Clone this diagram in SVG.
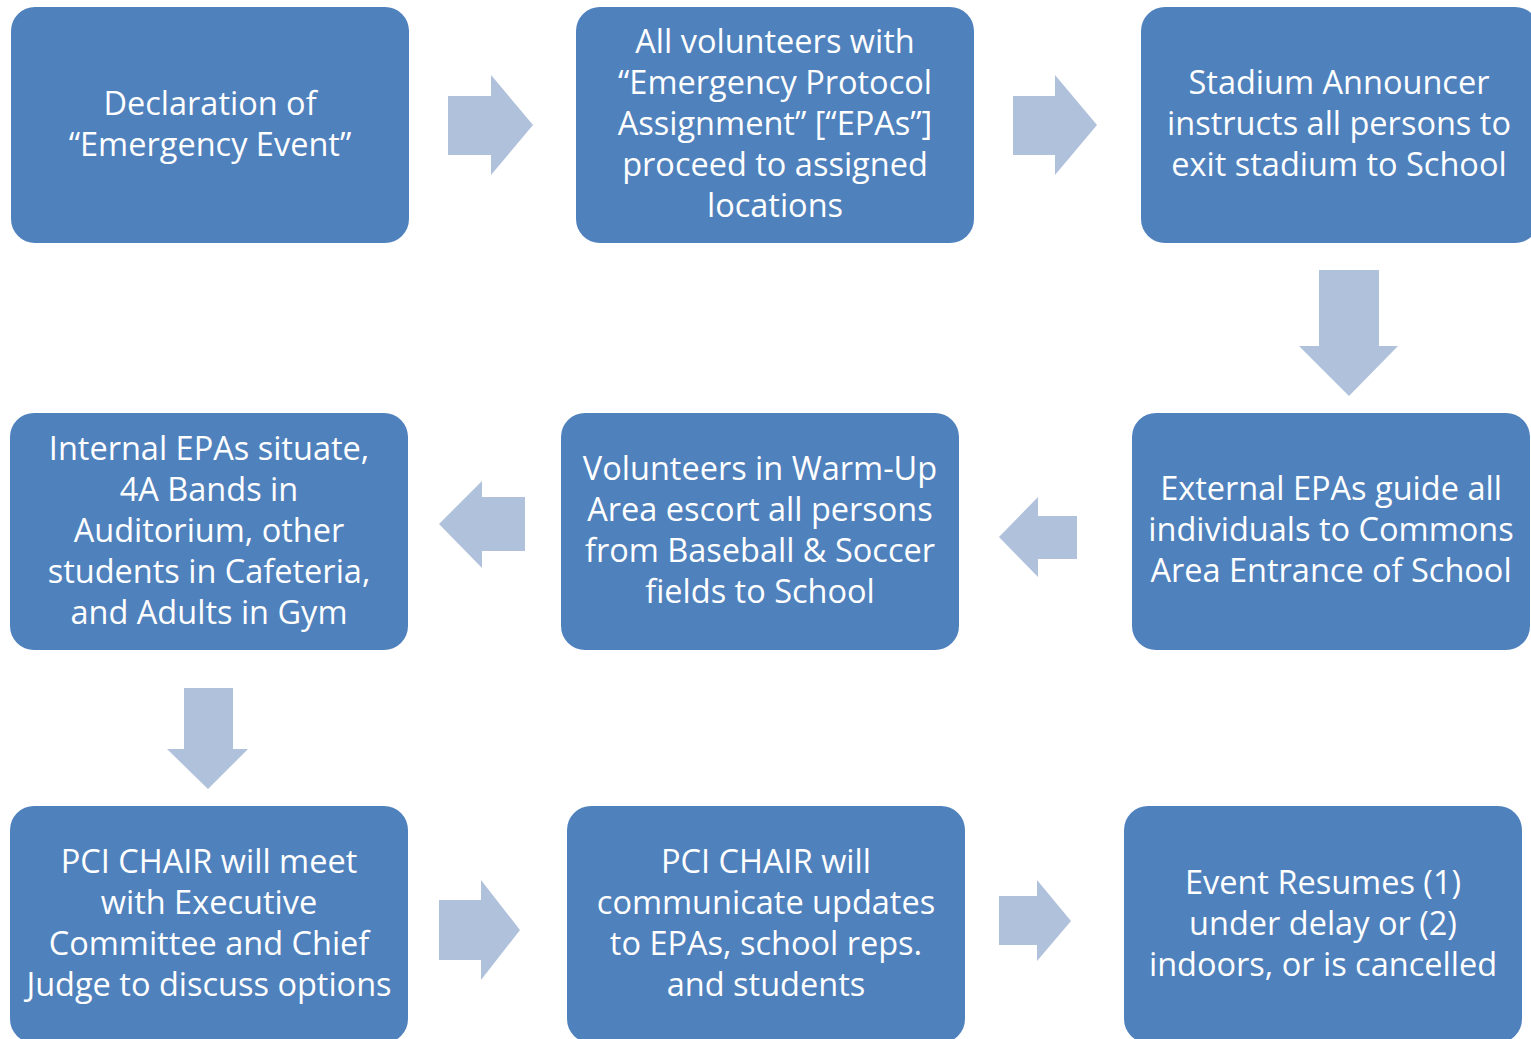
<svg xmlns="http://www.w3.org/2000/svg" width="1531" height="1039" viewBox="0 0 1531 1039">
<style>
.box{fill:#4F81BD;}
.arr{fill:#B0C1DC;}
.t{font-family:"Open Sans","Liberation Sans",sans-serif;font-size:32.5px;fill:#FFFFFF;text-anchor:middle;}
</style>
<rect width="1531" height="1039" fill="#FFFFFF"/>
<g id="connectors">
<polygon class="arr" points="448,96 491,96 491,75 533,125 491,175 491,155 448,155"/>
<polygon class="arr" points="1013,96 1055,96 1055,75 1097,125 1055,175 1055,155 1013,155"/>
<polygon class="arr" points="1319,270 1379,270 1379,346 1398,346 1349,396 1299,346 1319,346"/>
<polygon class="arr" points="1077,516 1038,516 1038,497 999,537 1038,577 1038,559 1077,559"/>
<polygon class="arr" points="525,497 482,497 482,481 439,524 482,568 482,551 525,551"/>
<polygon class="arr" points="184,688 233,688 233,749 248,749 208,789 167,749 184,749"/>
<polygon class="arr" points="439,900 481,900 481,880 520,930 481,980 481,960 439,960"/>
<polygon class="arr" points="999,896 1037,896 1037,880 1071,921 1037,961 1037,945 999,945"/>
</g>
<g id="n1">
<rect class="box" x="11" y="7" width="398" height="236" rx="24"/>
<text class="t" x="210" y="115">Declaration of</text>
<text class="t" x="210" y="156">“Emergency Event”</text>
</g>
<g id="n2">
<rect class="box" x="576" y="7" width="398" height="236" rx="24"/>
<text class="t" x="775" y="53">All volunteers with</text>
<text class="t" x="775" y="94">“Emergency Protocol</text>
<text class="t" x="775" y="135">Assignment” [“EPAs”]</text>
<text class="t" x="775" y="176">proceed to assigned</text>
<text class="t" x="775" y="217">locations</text>
</g>
<g id="n3">
<rect class="box" x="1141" y="7" width="398" height="236" rx="24"/>
<text class="t" x="1339" y="94">Stadium Announcer</text>
<text class="t" x="1339" y="135">instructs all persons to</text>
<text class="t" x="1339" y="176">exit stadium to School</text>
</g>
<g id="n6">
<rect class="box" x="1132" y="413" width="398" height="237" rx="24"/>
<text class="t" x="1331" y="500">External EPAs guide all</text>
<text class="t" x="1331" y="541">individuals to Commons</text>
<text class="t" x="1331" y="582">Area Entrance of School</text>
</g>
<g id="n5">
<rect class="box" x="561" y="413" width="398" height="237" rx="24"/>
<text class="t" x="760" y="480">Volunteers in Warm-Up</text>
<text class="t" x="760" y="521">Area escort all persons</text>
<text class="t" x="760" y="562">from Baseball &amp; Soccer</text>
<text class="t" x="760" y="603">fields to School</text>
</g>
<g id="n4">
<rect class="box" x="10" y="413" width="398" height="237" rx="24"/>
<text class="t" x="209" y="460">Internal EPAs situate,</text>
<text class="t" x="209" y="501">4A Bands in</text>
<text class="t" x="209" y="542">Auditorium, other</text>
<text class="t" x="209" y="583">students in Cafeteria,</text>
<text class="t" x="209" y="624">and Adults in Gym</text>
</g>
<g id="n7">
<rect class="box" x="10" y="806" width="398" height="237" rx="24"/>
<text class="t" x="209" y="873">PCI CHAIR will meet</text>
<text class="t" x="209" y="914">with Executive</text>
<text class="t" x="209" y="955">Committee and Chief</text>
<text class="t" x="209" y="996">Judge to discuss options</text>
</g>
<g id="n8">
<rect class="box" x="567" y="806" width="398" height="237" rx="24"/>
<text class="t" x="766" y="873">PCI CHAIR will</text>
<text class="t" x="766" y="914">communicate updates</text>
<text class="t" x="766" y="955">to EPAs, school reps.</text>
<text class="t" x="766" y="996">and students</text>
</g>
<g id="n9">
<rect class="box" x="1124" y="806" width="398" height="237" rx="24"/>
<text class="t" x="1323" y="894">Event Resumes (1)</text>
<text class="t" x="1323" y="935">under delay or (2)</text>
<text class="t" x="1323" y="976">indoors, or is cancelled</text>
</g>
</svg>
